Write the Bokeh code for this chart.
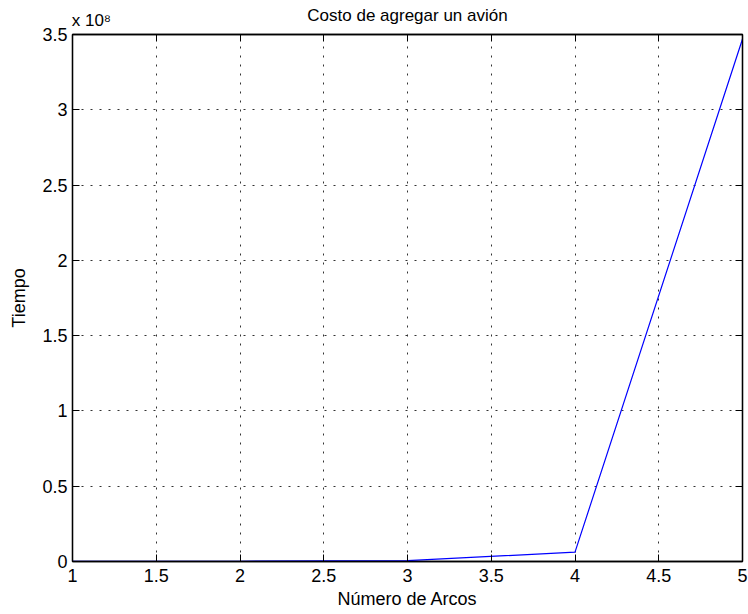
from bokeh.plotting import figure
from bokeh.models import (FixedTicker, CustomJSTickFormatter, LinearAxis, Range1d)
from bokeh.embed import file_html
from bokeh.resources import INLINE

# Data
arcos = [1, 2, 3, 4, 5]
tiempo = [2.0e4, 1.5e5, 6.0e5, 6.2e6, 3.47e8]
x_ticks = [1, 1.5, 2, 2.5, 3, 3.5, 4, 4.5, 5]
y_ticks = [0, 0.5e8, 1.0e8, 1.5e8, 2.0e8, 2.5e8, 3.0e8, 3.5e8]
titulo = "Costo de agregar un avión"
exponente = "x 10\u2078"

FONT = "Liberation Sans"

p = figure(width=748, height=614, output_backend="svg", toolbar_location=None,
           x_range=Range1d(1, 5), y_range=Range1d(0, 3.5e8),
           min_border_left=72, min_border_right=6, min_border_top=34, min_border_bottom=53)

p.line(arcos, tiempo, line_color="#0000ff", line_width=1.2)

xfmt = CustomJSTickFormatter(code="return String(parseFloat(tick.toFixed(2)));")
yfmt = CustomJSTickFormatter(code="return String(parseFloat((tick/1e8).toFixed(2)));")
pad = "\u00a0" * 8
topfmt = CustomJSTickFormatter(args=dict(t=pad + exponente),
                               code="return (Math.abs(tick - 1) < 1e-9) ? t : '';")
nofmt = CustomJSTickFormatter(code="return '';")

for ax in p.xaxis:
    ax.ticker = FixedTicker(ticks=x_ticks)
    ax.formatter = xfmt
for ax in p.yaxis:
    ax.ticker = FixedTicker(ticks=y_ticks)
    ax.formatter = yfmt

def style_axis(ax):
    ax.major_tick_in = 7
    ax.major_tick_out = 0
    ax.minor_tick_line_color = None
    ax.axis_line_color = "black"
    ax.axis_line_width = 1.3
    ax.major_tick_line_color = "black"
    ax.major_tick_line_width = 1
    ax.major_label_text_font = FONT
    ax.major_label_text_font_size = "18px"
    ax.major_label_text_color = "black"
    ax.axis_label_text_font = FONT
    ax.axis_label_text_font_size = "18px"
    ax.axis_label_text_font_style = "normal"
    ax.axis_label_text_color = "black"

p.xaxis.axis_label = "Número de Arcos"
p.yaxis.axis_label = "Tiempo"
style_axis(p.xaxis[0])
style_axis(p.yaxis[0])
p.xaxis.major_label_standoff = 7
p.xaxis.axis_label_standoff = 4
p.yaxis.major_label_standoff = 5
p.yaxis.axis_label_standoff = 10

top = LinearAxis(ticker=FixedTicker(ticks=x_ticks), formatter=topfmt,
                 axis_label=titulo)
style_axis(top)
top.major_label_text_font_size = "17px"
top.major_label_standoff = 5
top.axis_label_text_font_size = "17px"
top.axis_label_standoff = -17
p.add_layout(top, "above")

right = LinearAxis(ticker=FixedTicker(ticks=y_ticks), formatter=nofmt)
style_axis(right)
right.major_label_standoff = 0
p.add_layout(right, "right")

p.xgrid.ticker = FixedTicker(ticks=x_ticks)
p.ygrid.ticker = FixedTicker(ticks=y_ticks)
for g in (p.xgrid[0], p.ygrid[0]):
    g.grid_line_color = "#333333"
    g.grid_line_dash = "2 7"
    g.grid_line_width = 1

p.outline_line_color = "black"
p.outline_line_width = 1.3
p.background_fill_color = "white"
p.border_fill_color = "white"

open("out.html", "w").write(file_html(p, INLINE))
